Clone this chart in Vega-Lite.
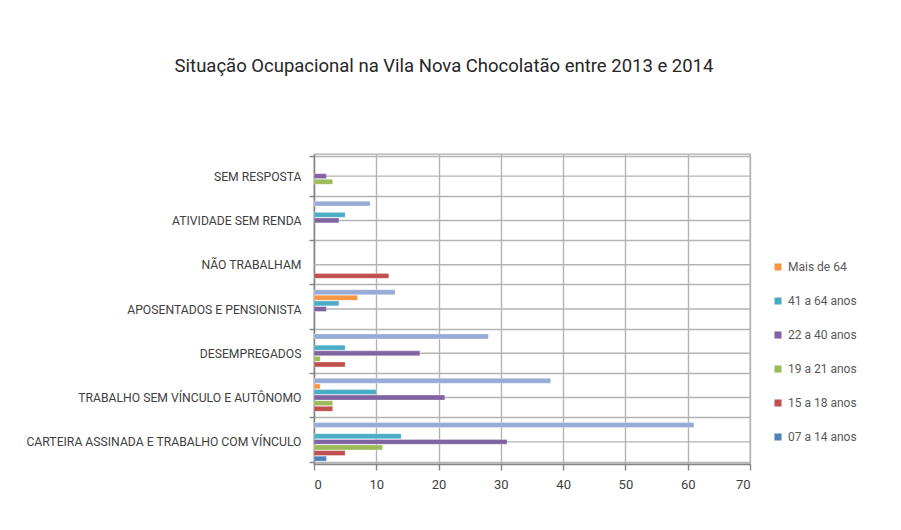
{
  "$schema": "https://vega.github.io/schema/vega-lite/v6.json",
  "width": 436,
  "height": 310,
  "autosize": {"type": "none"},
  "padding": {"left": 314, "top": 154, "right": 151, "bottom": 66},
  "background": "#ffffff",
  "title": {
    "text": "Situação Ocupacional na Vila Nova Chocolatão entre 2013 e 2014",
    "font": "Roboto",
    "fontSize": 18.5,
    "fontWeight": "normal",
    "color": "#262626",
    "anchor": "middle",
    "dx": -88,
    "offset": 73
  },
  "data": {
    "values": [
      {"categoria": "SEM RESPOSTA", "faixa": "22 a 40 anos", "valor": 2},
      {"categoria": "SEM RESPOSTA", "faixa": "19 a 21 anos", "valor": 3},
      {"categoria": "ATIVIDADE SEM RENDA", "faixa": "Total", "valor": 9},
      {"categoria": "ATIVIDADE SEM RENDA", "faixa": "41 a 64 anos", "valor": 5},
      {"categoria": "ATIVIDADE SEM RENDA", "faixa": "22 a 40 anos", "valor": 4},
      {"categoria": "NÃO TRABALHAM", "faixa": "15 a 18 anos", "valor": 12},
      {"categoria": "APOSENTADOS E PENSIONISTA", "faixa": "Total", "valor": 13},
      {"categoria": "APOSENTADOS E PENSIONISTA", "faixa": "Mais de 64", "valor": 7},
      {"categoria": "APOSENTADOS E PENSIONISTA", "faixa": "41 a 64 anos", "valor": 4},
      {"categoria": "APOSENTADOS E PENSIONISTA", "faixa": "22 a 40 anos", "valor": 2},
      {"categoria": "DESEMPREGADOS", "faixa": "Total", "valor": 28},
      {"categoria": "DESEMPREGADOS", "faixa": "41 a 64 anos", "valor": 5},
      {"categoria": "DESEMPREGADOS", "faixa": "22 a 40 anos", "valor": 17},
      {"categoria": "DESEMPREGADOS", "faixa": "19 a 21 anos", "valor": 1},
      {"categoria": "DESEMPREGADOS", "faixa": "15 a 18 anos", "valor": 5},
      {"categoria": "TRABALHO SEM VÍNCULO E AUTÔNOMO", "faixa": "Total", "valor": 38},
      {"categoria": "TRABALHO SEM VÍNCULO E AUTÔNOMO", "faixa": "Mais de 64", "valor": 1},
      {"categoria": "TRABALHO SEM VÍNCULO E AUTÔNOMO", "faixa": "41 a 64 anos", "valor": 10},
      {"categoria": "TRABALHO SEM VÍNCULO E AUTÔNOMO", "faixa": "22 a 40 anos", "valor": 21},
      {"categoria": "TRABALHO SEM VÍNCULO E AUTÔNOMO", "faixa": "19 a 21 anos", "valor": 3},
      {"categoria": "TRABALHO SEM VÍNCULO E AUTÔNOMO", "faixa": "15 a 18 anos", "valor": 3},
      {"categoria": "CARTEIRA ASSINADA E TRABALHO COM VÍNCULO", "faixa": "Total", "valor": 61},
      {"categoria": "CARTEIRA ASSINADA E TRABALHO COM VÍNCULO", "faixa": "41 a 64 anos", "valor": 14},
      {"categoria": "CARTEIRA ASSINADA E TRABALHO COM VÍNCULO", "faixa": "22 a 40 anos", "valor": 31},
      {"categoria": "CARTEIRA ASSINADA E TRABALHO COM VÍNCULO", "faixa": "19 a 21 anos", "valor": 11},
      {"categoria": "CARTEIRA ASSINADA E TRABALHO COM VÍNCULO", "faixa": "15 a 18 anos", "valor": 5},
      {"categoria": "CARTEIRA ASSINADA E TRABALHO COM VÍNCULO", "faixa": "07 a 14 anos", "valor": 2}
    ]
  },
  "config": {
    "view": {"stroke": "#ababab", "strokeWidth": 1.3},
    "axis": {
      "labelFont": "Roboto",
      "labelColor": "#404040",
      "gridColor": "#b3b3b3",
      "gridWidth": 1.4,
      "domainColor": "#858585",
      "domainWidth": 1.4,
      "tickColor": "#858585",
      "tickWidth": 1.4
    },
    "legend": {"labelFont": "Roboto"}
  },
  "encoding": {
    "y": {
      "field": "categoria",
      "type": "nominal",
      "sort": [
        "SEM RESPOSTA",
        "ATIVIDADE SEM RENDA",
        "NÃO TRABALHAM",
        "APOSENTADOS E PENSIONISTA",
        "DESEMPREGADOS",
        "TRABALHO SEM VÍNCULO E AUTÔNOMO",
        "CARTEIRA ASSINADA E TRABALHO COM VÍNCULO"
      ],
      "scale": {"paddingInner": 0.11, "paddingOuter": 0.055},
      "axis": {
        "title": null,
        "tickBand": "extent",
        "labelFontSize": 12.2,
        "labelLimit": 320,
        "labelPadding": 8,
        "tickSize": 5,
        "grid": true
      }
    }
  },
  "layer": [
    {
      "transform": [{"aggregate": [{"op": "count", "as": "n"}], "groupby": ["categoria"]}],
      "mark": {"type": "rule", "color": "#b3b3b3", "strokeWidth": 1.4},
      "encoding": {}
    },
    {
      "mark": {"type": "bar", "stroke": "#ffffff", "strokeWidth": 0.3},
      "encoding": {
        "x": {
          "field": "valor",
          "type": "quantitative",
          "scale": {"domain": [0, 70]},
          "axis": {
            "title": null,
            "values": [0, 10, 20, 30, 40, 50, 60, 70],
            "labelFontSize": 13,
            "labelPadding": 8,
            "tickSize": 6,
            "grid": true
          }
        },
        "yOffset": {
          "field": "faixa",
          "type": "nominal",
          "sort": ["Total", "Mais de 64", "41 a 64 anos", "22 a 40 anos", "19 a 21 anos", "15 a 18 anos", "07 a 14 anos"],
          "scale": {"paddingInner": 0.12, "paddingOuter": 0.08}
        },
        "color": {
          "field": "faixa",
          "type": "nominal",
          "scale": {
            "domain": ["Mais de 64", "41 a 64 anos", "22 a 40 anos", "19 a 21 anos", "15 a 18 anos", "07 a 14 anos", "Total"],
            "range": ["#F79646", "#4BACC6", "#8064A2", "#9BBB59", "#C0504D", "#4F81BD", "#97ABD6"]
          },
          "legend": {
            "title": null,
            "values": ["Mais de 64", "41 a 64 anos", "22 a 40 anos", "19 a 21 anos", "15 a 18 anos", "07 a 14 anos"],
            "orient": "none",
            "legendX": 458,
            "legendY": 107,
            "symbolType": "square",
            "symbolSize": 50,
            "symbolStrokeWidth": 0,
            "labelFontSize": 12,
            "labelColor": "#595959",
            "rowPadding": 22,
            "labelOffset": 4
          }
        }
      }
    }
  ]
}
